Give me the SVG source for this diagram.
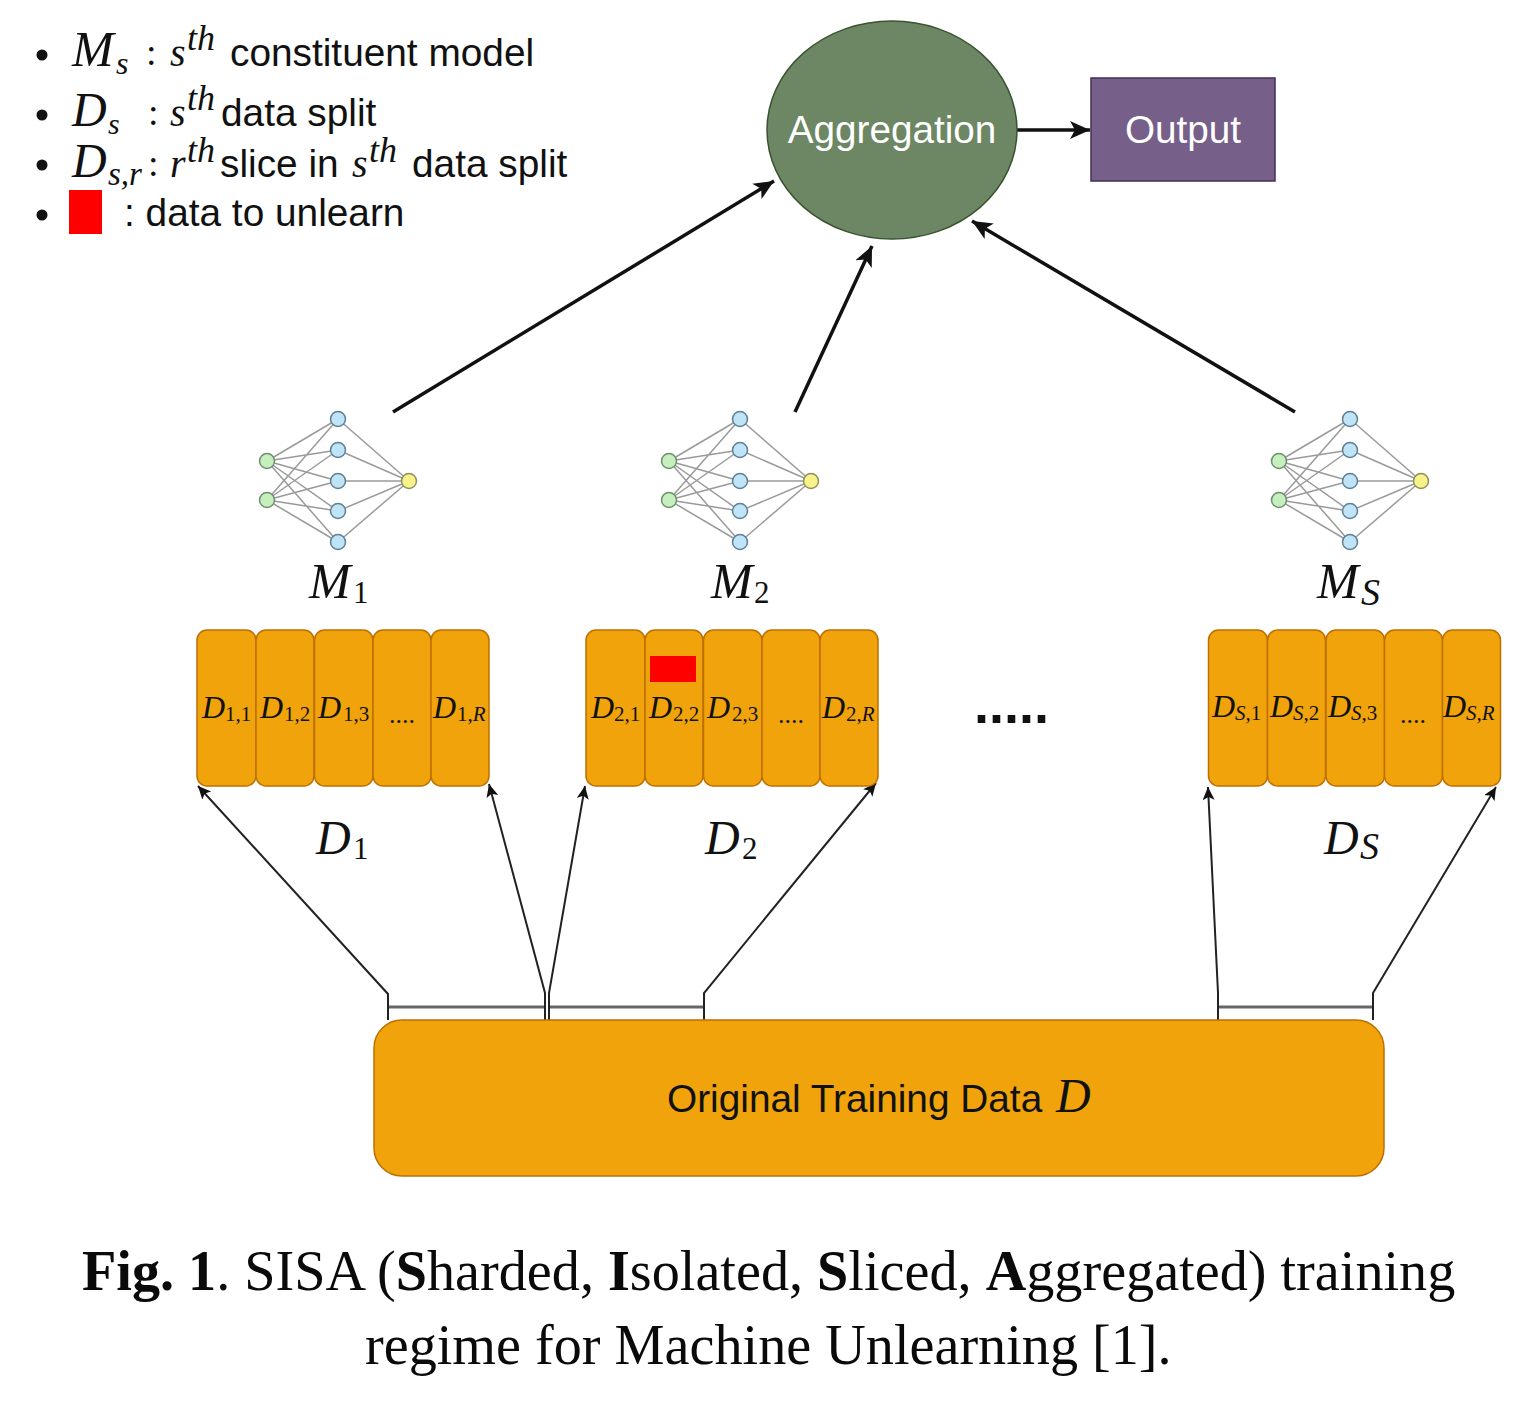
<svg xmlns="http://www.w3.org/2000/svg" xmlns:xlink="http://www.w3.org/1999/xlink" width="1528" height="1422" viewBox="0 0 1528 1422">
<style>
text{font-family:"Liberation Sans",Arial,sans-serif;fill:#111}
.m{font-family:"Liberation Serif","Times New Roman",serif;font-style:italic}
.r{font-family:"Liberation Serif","Times New Roman",serif;font-style:normal}
.lg{font-size:38.800px}
.cap{font-family:"Liberation Serif","Times New Roman",serif;font-size:56.200px;fill:#0a0a0a}
.sl{fill:#f0a30a;stroke:#bd7000;stroke-width:1.5}
.st{font-size:32px}
.ss{font-size:21px}
.dd{font-size:26px}
.thick{fill:none;stroke:#111;stroke-width:3.5;marker-end:url(#ah)}
.thin{fill:none;stroke:#222;stroke-width:2;marker-end:url(#at)}
.bar{fill:none;stroke:#666;stroke-width:3}
.e{stroke:#9a9a9a;stroke-width:1.5;fill:none}
.ni{fill:#c5f0bd;stroke:#6f8f6f;stroke-width:1.5}
.nh{fill:#bfe3f7;stroke:#5f7f92;stroke-width:1.5}
.no{fill:#f7f28a;stroke:#8f8f5f;stroke-width:1.5}
</style>
<defs>
<marker id="ah" markerUnits="userSpaceOnUse" markerWidth="24" markerHeight="20" refX="20" refY="9" orient="auto"><path d="M0 0L20 9L0 18L5 9Z" fill="#111"/></marker>
<marker id="at" markerUnits="userSpaceOnUse" markerWidth="16" markerHeight="14" refX="13" refY="6" orient="auto"><path d="M0 0L13 6L0 12L3 6Z" fill="#111"/></marker>
<g id="net">
<path class="e" d="M267 461L338 419M267 461L338 450M267 461L338 481M267 461L338 511M267 461L338 542M267 500L338 419M267 500L338 450M267 500L338 481M267 500L338 511M267 500L338 542M338 419L409 481M338 450L409 481M338 481L409 481M338 511L409 481M338 542L409 481"/>
<circle class="ni" cx="267" cy="461" r="7.500"/><circle class="ni" cx="267" cy="500" r="7.500"/>
<circle class="nh" cx="338" cy="419" r="7.500"/><circle class="nh" cx="338" cy="450" r="7.500"/><circle class="nh" cx="338" cy="481" r="7.500"/><circle class="nh" cx="338" cy="511" r="7.500"/><circle class="nh" cx="338" cy="542" r="7.500"/>
<circle class="no" cx="409" cy="481" r="7.500"/>
</g>
<g id="slices">
<rect class="sl" x="197" y="630" width="59" height="156" rx="10"/>
<rect class="sl" x="256" y="630" width="58" height="156" rx="10"/>
<rect class="sl" x="314.500" y="630" width="58.500" height="156" rx="10"/>
<rect class="sl" x="373" y="630" width="58" height="156" rx="10"/>
<rect class="sl" x="431" y="630" width="58" height="156" rx="10"/>
</g>
</defs>
<rect width="1528" height="1422" fill="#fff"/>

<g id="legend">
<circle cx="42" cy="55" r="5.500" fill="#111"/><circle cx="42" cy="115" r="5.500" fill="#111"/><circle cx="42" cy="165" r="5.500" fill="#111"/><circle cx="42" cy="215" r="5.500" fill="#111"/>
<text class="m" x="72" y="66" font-size="50">M</text><text class="m" x="116" y="74" font-size="32">s</text>
<text class="r" x="146" y="65" font-size="38">:</text><text class="m" x="170" y="66" font-size="40">s</text><text class="m" x="187" y="50" font-size="36">th</text>
<text class="lg" x="230" y="66">constituent model</text>
<text class="m" x="72" y="126" font-size="48">D</text><text class="m" x="108" y="134" font-size="30">s</text>
<text class="r" x="148" y="125" font-size="38">:</text><text class="m" x="170" y="126" font-size="40">s</text><text class="m" x="187" y="110" font-size="36">th</text>
<text class="lg" x="221" y="126">data split</text>
<text class="m" x="72" y="177" font-size="48">D</text><text class="m" x="108" y="185" font-size="33">s,r</text>
<text class="r" x="148" y="176" font-size="38">:</text><text class="m" x="170" y="177" font-size="40">r</text><text class="m" x="187" y="162" font-size="36">th</text>
<text class="lg" x="220" y="177">slice in</text><text class="m" x="352" y="177" font-size="40">s</text><text class="m" x="369" y="162" font-size="36">th</text>
<text class="lg" x="412" y="177">data split</text>
<rect x="69" y="190" width="33" height="44" fill="#ff0000"/>
<text class="lg" x="124" y="226">: data to unlearn</text>
</g>

<g id="connectors">
<path class="thick" d="M393 412L774 181"/>
<path class="thick" d="M795 412L872 246"/>
<path class="thick" d="M1295 412L972 221"/>
<path class="thick" d="M1017 130L1090 130"/>
<path class="bar" d="M388 1007H545M549 1007H704M1218 1007H1373"/>
<path class="thin" d="M388 1020V994L198 786"/>
<path class="thin" d="M545 1020V993L489 784"/>
<path class="thin" d="M549 1020V993L585 786"/>
<path class="thin" d="M704 1020V993L876 783"/>
<path class="thin" d="M1218 1020V993L1208 787"/>
<path class="thin" d="M1373 1020V993L1496 787"/>
</g>

<g id="aggregation"><ellipse cx="892" cy="130" rx="125" ry="109" fill="#6d8764" stroke="#3a5431" stroke-width="1.500"/>
<text x="892" y="143" font-size="38.700" text-anchor="middle" style="fill:#fff">Aggregation</text></g>
<g id="output"><rect x="1091" y="78" width="184" height="103" fill="#76608a" stroke="#432d57" stroke-width="1.500"/>
<text x="1183" y="143" font-size="38.700" text-anchor="middle" style="fill:#fff">Output</text></g>

<g id="model-1"><use xlink:href="#net" href="#net"/><text class="m" x="309" y="598" font-size="50">M</text><text class="r" x="353" y="603" font-size="31">1</text></g>
<g id="model-2"><use xlink:href="#net" href="#net" x="402"/><text class="m" x="711" y="598" font-size="50">M</text><text class="r" x="754" y="603" font-size="31">2</text></g>
<g id="model-s"><use xlink:href="#net" href="#net" x="1012"/><text class="m" x="1317" y="598" font-size="50">M</text><text class="m" x="1361" y="605" font-size="38">S</text></g>

<g id="shard-1"><use xlink:href="#slices" href="#slices"/>
<text class="m st" x="202" y="718">D</text><text class="r ss" x="225" y="721">1,1</text>
<text class="m st" x="260" y="718">D</text><text class="r ss" x="284" y="721">1,2</text>
<text class="m st" x="318" y="718">D</text><text class="r ss" x="343" y="721">1,3</text>
<text class="r dd" x="389" y="723">....</text>
<text class="m st" x="433" y="718">D</text><text class="r ss" x="457" y="721">1,<tspan class="m">R</tspan></text>
<text class="m" x="316" y="854" font-size="48">D</text><text class="r" x="353" y="859" font-size="31">1</text></g>

<g id="shard-2"><use xlink:href="#slices" href="#slices" x="389"/>
<rect x="650" y="656" width="46" height="26" fill="#ff0000"/>
<text class="m st" x="591" y="718">D</text><text class="r ss" x="614" y="721">2,1</text>
<text class="m st" x="649" y="718">D</text><text class="r ss" x="673" y="721">2,2</text>
<text class="m st" x="707" y="718">D</text><text class="r ss" x="732" y="721">2,3</text>
<text class="r dd" x="778" y="723">....</text>
<text class="m st" x="822" y="718">D</text><text class="r ss" x="846" y="721">2,<tspan class="m">R</tspan></text>
<text class="m" x="705" y="854" font-size="48">D</text><text class="r" x="742" y="859" font-size="31">2</text></g>

<g id="gap"><text x="974" y="723" font-size="54" font-weight="bold" style="fill:#111">.....</text></g>

<g id="shard-s"><use xlink:href="#slices" href="#slices" x="1011.500"/>
<text class="m st" x="1212" y="717">D</text><text class="m ss" x="1235" y="720">S,<tspan class="r">1</tspan></text>
<text class="m st" x="1270" y="717">D</text><text class="m ss" x="1293" y="720">S,<tspan class="r">2</tspan></text>
<text class="m st" x="1328" y="717">D</text><text class="m ss" x="1351" y="720">S,<tspan class="r">3</tspan></text>
<text class="r dd" x="1400" y="723">....</text>
<text class="m st" x="1443" y="717">D</text><text class="m ss" x="1466" y="720">S,R</text>
<text class="m" x="1324" y="854" font-size="48">D</text><text class="m" x="1360" y="859" font-size="38">S</text></g>

<g id="original"><rect x="374" y="1020" width="1010" height="156" rx="28" fill="#f0a30a" stroke="#bd7000" stroke-width="1.500"/>
<text x="667" y="1112" font-size="38.800">Original Training Data</text><text class="m" x="1056" y="1112" font-size="48">D</text></g>

<g id="caption">
<text class="cap" x="82" y="1290"><tspan font-weight="bold">Fig. 1</tspan>. SISA (<tspan font-weight="bold">S</tspan>harded, <tspan font-weight="bold">I</tspan>solated, <tspan font-weight="bold">S</tspan>liced, <tspan font-weight="bold">A</tspan>ggregated) training</text>
<text class="cap" x="365" y="1364">regime for Machine Unlearning [1].</text>
</g>
</svg>
